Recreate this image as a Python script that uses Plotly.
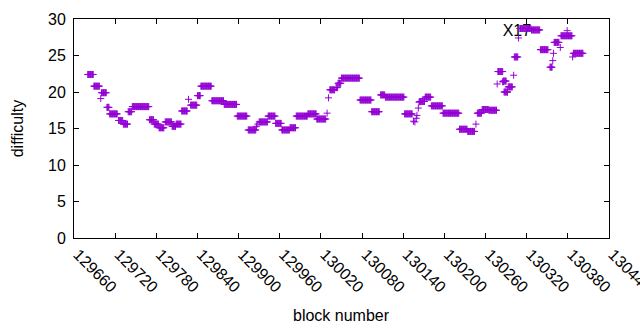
import plotly.graph_objects as go

# Runs of consecutive blocks sharing one difficulty value (block numbers, difficulty)
run_start = [129680, 129689, 129699, 129700, 129708, 129712, 129725, 129732, 129739, 129745,
             129770, 129777, 129784, 129793, 129803, 129809, 129817, 129827, 129830, 129840,
             129845, 129861, 129879, 129898, 129914, 129926, 129928, 129930, 129943, 129954,
             129963, 129975, 129984, 130001, 130014, 130029, 130031, 130033, 130042, 130045,
             130050, 130077, 130094, 130107, 130114, 130142, 130155, 130157, 130159, 130160,
             130162, 130163, 130164, 130172, 130181, 130198, 130222, 130234, 130246, 130248,
             130255, 130265, 130277, 130278, 130285, 130286, 130287, 130292, 130293, 130301,
             130302, 130308, 130310, 130327, 130340, 130354, 130358, 130359, 130360, 130369,
             130370, 130379, 130387, 130388]
run_end = [129688, 129697, 129699, 129707, 129711, 129723, 129731, 129738, 129744, 129769,
           129776, 129783, 129791, 129802, 129808, 129816, 129825, 129827, 129839, 129844,
           129860, 129878, 129897, 129912, 129925, 129926, 129928, 129942, 129953, 129962,
           129974, 129983, 130000, 130013, 130027, 130029, 130031, 130040, 130044, 130049,
           130076, 130093, 130105, 130113, 130141, 130153, 130155, 130157, 130159, 130160,
           130162, 130163, 130171, 130180, 130197, 130221, 130233, 130244, 130246, 130254,
           130264, 130276, 130277, 130285, 130286, 130290, 130292, 130292, 130299, 130301,
           130307, 130308, 130326, 130339, 130351, 130357, 130358, 130359, 130367, 130369,
           130386, 130379, 130387, 130402]
run_diff = [22.4, 20.8, 19.1, 19.9, 17.9, 17.0, 16.1, 15.6, 17.3, 18.0,
            16.2, 15.6, 15.1, 15.9, 15.3, 15.6, 17.4, 19.0, 18.2, 19.5,
            20.8, 18.8, 18.3, 16.7, 14.8, 15.3, 15.6, 15.9, 16.7, 15.7,
            14.8, 15.1, 16.7, 17.0, 16.3, 17.1, 19.2, 20.3, 20.6, 21.2,
            21.9, 18.9, 17.3, 19.6, 19.3, 17.0, 16.0, 15.9, 16.4, 16.8,
            17.8, 18.6, 18.7, 19.3, 18.1, 17.1, 14.9, 14.6, 15.6, 17.1,
            17.6, 17.5, 21.1, 22.8, 21.4, 21.5, 20.0, 20.0, 20.7, 22.3,
            24.8, 27.4, 28.7, 28.5, 25.8, 23.4, 24.3, 25.3, 26.8, 26.1,
            27.7, 28.4, 24.8, 25.3]

x_ticks = [129660, 129720, 129780, 129840, 129900, 129960, 130020, 130080,
           130140, 130200, 130260, 130320, 130380, 130440]
y_ticks = [0, 5, 10, 15, 20, 25, 30]

label_text = ["X17"]
label_x = [130285]
label_y = [28.2]

blocks, diffs = [], []
for s, e, d in zip(run_start, run_end, run_diff):
    for b in range(s, e + 1):
        blocks.append(b)
        diffs.append(d)

PURPLE = "#9400d3"
FONT = "Liberation Sans, Arial, sans-serif"

fig = go.Figure()
fig.add_trace(go.Scatter(x=label_x, y=label_y, text=label_text, mode="text",
                         textposition="middle right",
                         textfont=dict(family=FONT, size=16, color="black"),
                         hoverinfo="skip", cliponaxis=False))
fig.add_trace(go.Scatter(x=blocks, y=diffs, mode="markers",
                         marker=dict(symbol="cross-thin", size=5,
                                     line=dict(width=1, color=PURPLE), color=PURPLE)))

axis_common = dict(showline=True, linecolor="black", linewidth=1, mirror="ticks",
                   ticks="inside", ticklen=5, tickcolor="black", showgrid=False,
                   zeroline=False, automargin=False, ticklabeloverflow="allow",
                   tickfont=dict(family=FONT, size=16, color="black"))

fig.update_layout(
    width=640, height=330,
    margin=dict(l=74, r=31, t=19, b=92),
    plot_bgcolor="white", paper_bgcolor="white",
    showlegend=False,
    font=dict(family=FONT, size=16, color="black"),
    xaxis=dict(range=[129660, 130440], tickvals=x_ticks,
               ticktext=[str(v) for v in x_ticks], tickangle=45,
               ticklabelshift=4, **axis_common),
    yaxis=dict(range=[0, 30], tickvals=y_ticks, ticklabelstandoff=4, **axis_common),
    annotations=[
        dict(text="block number", xref="paper", yref="paper", x=0.5, y=-0.355,
             showarrow=False, xanchor="center", yanchor="middle",
             font=dict(family=FONT, size=16, color="black")),
        dict(text="difficulty", xref="paper", yref="paper", x=-0.105, y=0.5,
             showarrow=False, xanchor="center", yanchor="middle", textangle=-90,
             font=dict(family=FONT, size=16, color="black")),
    ],
)

fig.write_html("out.html", config={"displayModeBar": False},
               post_script="document.body.style.margin='0px';document.body.style.overflow='hidden';")
